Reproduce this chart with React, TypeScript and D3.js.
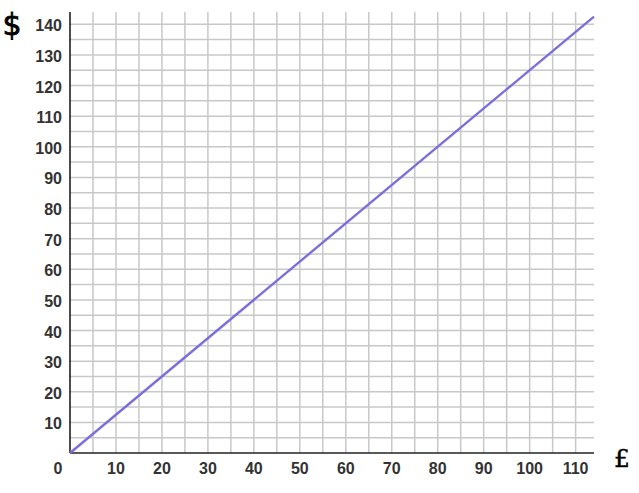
import React from "react";
import * as d3 from "d3";

const xTicks = [0, 10, 20, 30, 40, 50, 60, 70, 80, 90, 100, 110];
const yTicks = [10, 20, 30, 40, 50, 60, 70, 80, 90, 100, 110, 120, 130, 140];
const gbp = [0, 114];
const usd = [0, 142.5];
const xLabel = "£";
const yLabel = "$";

export default function App() {
  const W = 639, H = 493;
  const left = 70, right = 594, top = 12, bottom = 453;
  const x = d3.scaleLinear().domain([0, 114]).range([left, right]);
  const y = d3.scaleLinear().domain([0, 144]).range([bottom, top]);
  const xGrid = d3.range(5, 114, 5);
  const yGrid = d3.range(5, 144, 5);
  const pts: [number, number][] = gbp.map((g, i) => [g, usd[i]]);
  const line = d3.line<[number, number]>().x(d => x(d[0])).y(d => y(d[1]));
  const font = "'Liberation Sans', Arial, sans-serif";
  return (
    <svg width={W} height={H} style={{ position: "absolute", left: 0, top: 0 }}>
      <rect width={W} height={H} fill="#fff" />
      {xGrid.map(v => (
        <line key={"gx" + v} x1={x(v)} x2={x(v)} y1={top} y2={bottom} stroke="#c8c8c8" strokeWidth={1.5} />
      ))}
      {yGrid.map(v => (
        <line key={"gy" + v} x1={left} x2={right} y1={y(v)} y2={y(v)} stroke="#c8c8c8" strokeWidth={1.5} />
      ))}
      <line x1={left} x2={left} y1={top} y2={bottom} stroke="#111" strokeWidth={1.5} />
      <line x1={left} x2={right} y1={bottom} y2={bottom} stroke="#222" strokeWidth={1.5} />
      <path d={line(pts) || ""} fill="none" stroke="#7b6fdc" strokeWidth={2.4} />
      {yTicks.map(v => (
        <text key={"yt" + v} x={62} y={y(v) + 7} textAnchor="end" fontFamily={font} fontWeight="bold" fontSize={16} fill="#333">{v}</text>
      ))}
      {xTicks.map(v => (
        <text key={"xt" + v} x={v === 0 ? 58 : x(v)} y={474} textAnchor="middle" fontFamily={font} fontWeight="bold" fontSize={16} fill="#333">{v}</text>
      ))}
      <text x={12} y={35} textAnchor="middle" fontFamily="'DejaVu Sans', sans-serif" fontSize={30} stroke="#000" strokeWidth={0.8} fill="#000">{yLabel}</text>
      <text x={622} y={467} textAnchor="middle" fontFamily="'DejaVu Serif', serif" fontSize={25} stroke="#000" strokeWidth={0.4} fill="#000">{xLabel}</text>
    </svg>
  );
}
